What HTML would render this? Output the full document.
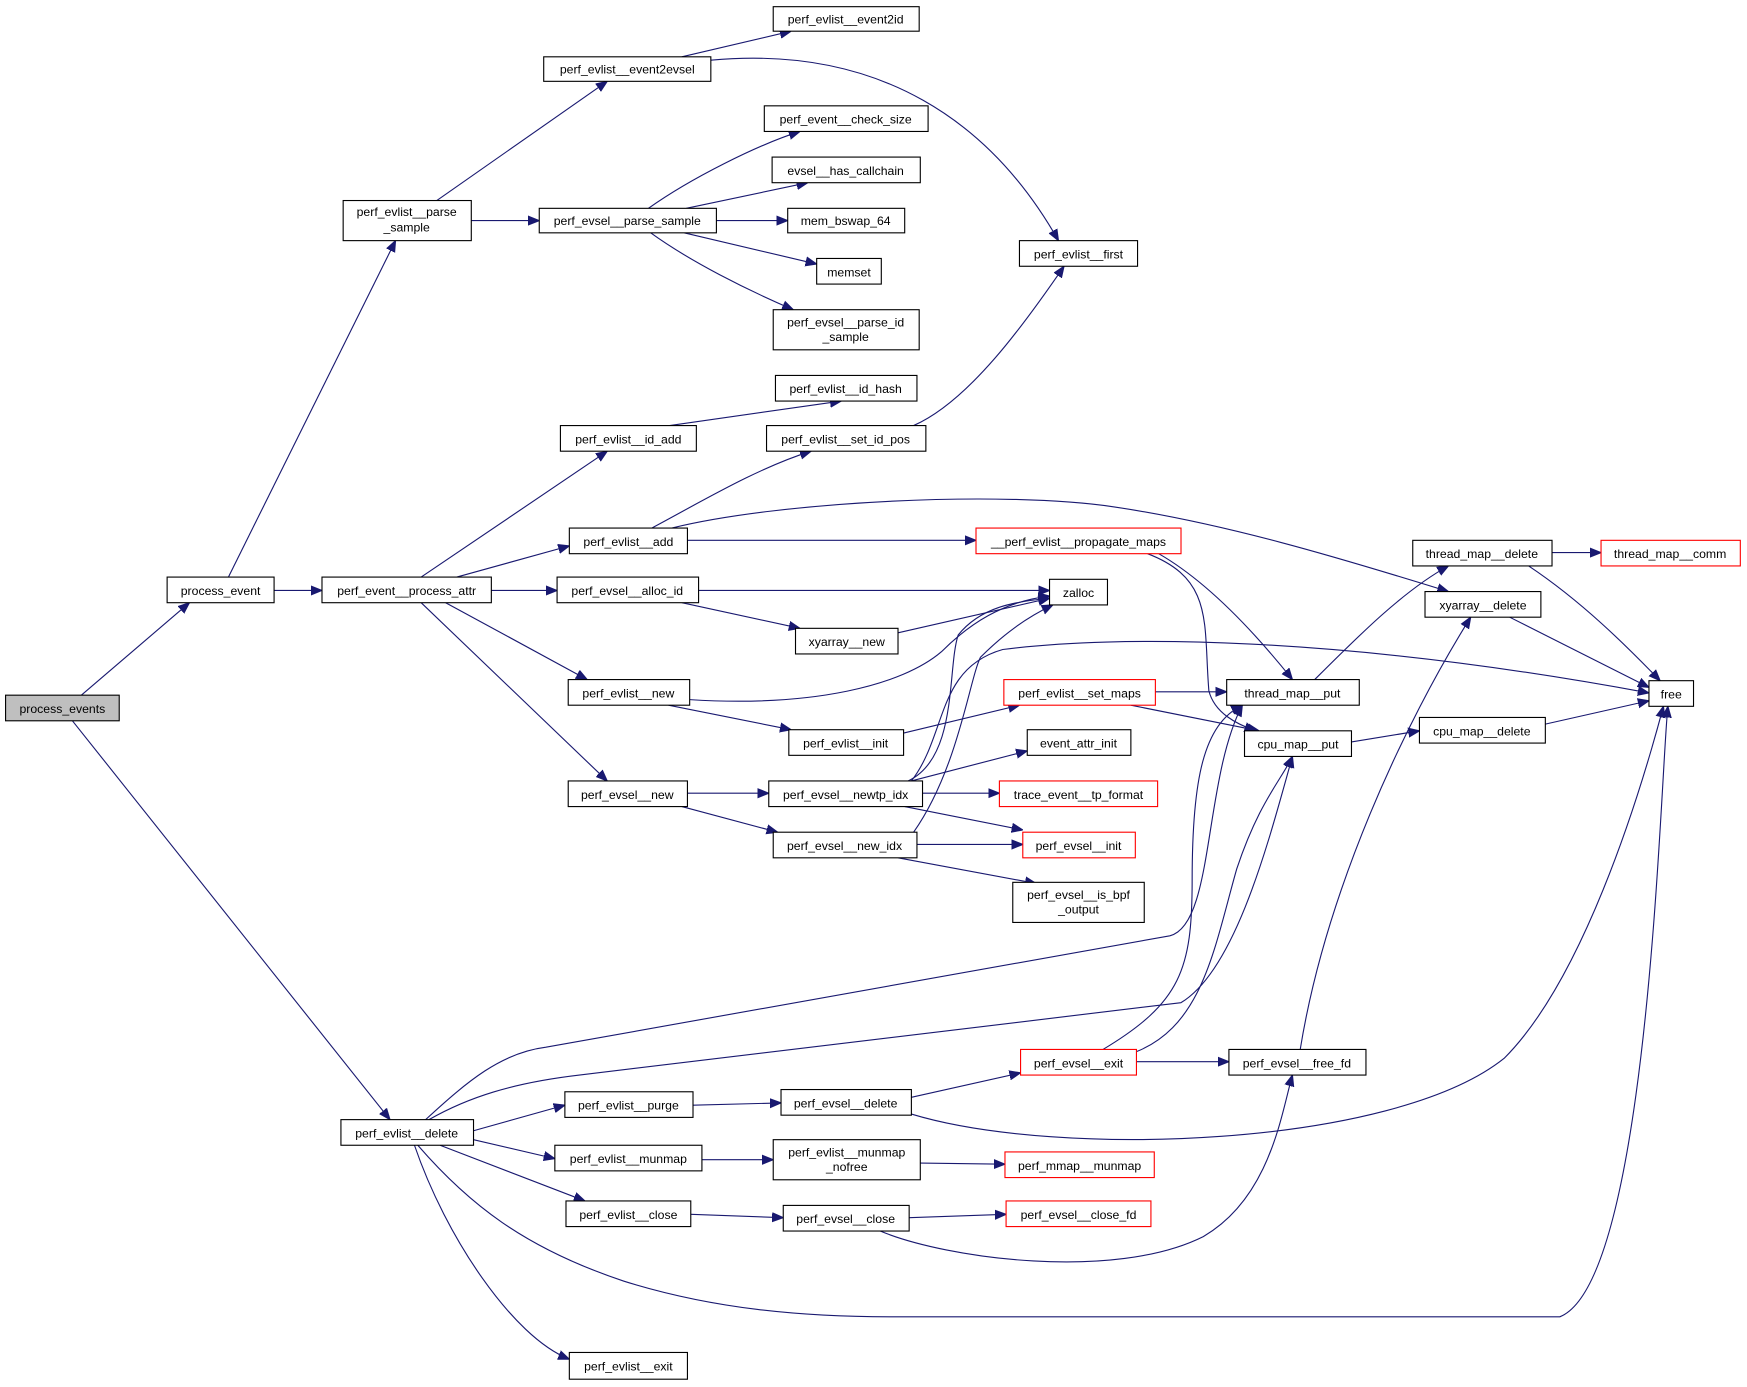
<!DOCTYPE html>
<html><head><meta charset="utf-8"><style>
html,body{margin:0;padding:0;background:#fff;}
svg{display:block;}
text{font-family:"Liberation Sans",sans-serif;font-size:11px;fill:#000;text-anchor:middle;}
.n{fill:#fff;stroke:#000;stroke-width:1;}
.r{fill:#fff;stroke:#ff0000;stroke-width:1;}
.g{fill:#bfbfbf;stroke:#000;stroke-width:1;}
path{fill:none;stroke:#191970;stroke-width:1;}
</style></head><body>
<svg width="1747" height="1387" viewBox="0 0 1568 1245" preserveAspectRatio="none" xmlns="http://www.w3.org/2000/svg">
<defs><marker id="a" viewBox="0 0 10 10" refX="10" refY="5" markerWidth="10" markerHeight="10" markerUnits="userSpaceOnUse" orient="auto"><path d="M0,1 L10,5 L0,9 Z" style="fill:#191970;stroke:#191970"/></marker></defs>
<g marker-end="url(#a)">
<path d="M73,624 L170,541"/>
<path d="M65,647 L350,1005"/>
<path d="M205,518 L355,216"/>
<path d="M246,530 L289,530"/>
<path d="M392,180 L545,73"/>
<path d="M423,198 L484,198"/>
<path d="M612,51 L710,28"/>
<path d="M638,54 C790,40 890,110 950,216"/>
<path d="M582,187 C620,160 680,130 718,118"/>
<path d="M616,187 L725,164"/>
<path d="M643,198 L707,198"/>
<path d="M614,209 L733,237"/>
<path d="M584,209 C620,235 670,260 712,278"/>
<path d="M820,382 C870,360 920,290 955,239"/>
<path d="M601,382 L755,360"/>
<path d="M378,518 L545,405"/>
<path d="M410,518 L511,490"/>
<path d="M441,530 L500,530"/>
<path d="M400,541 L527,610"/>
<path d="M378,541 L545,701"/>
<path d="M585,474 C630,450 680,420 728,405"/>
<path d="M617,485 L876,485"/>
<path d="M603,474 C700,450 900,440 1000,455 C1100,470 1200,500 1300,531"/>
<path d="M627,530 L942,530"/>
<path d="M612,541 L718,564"/>
<path d="M806,568 L942,537"/>
<path d="M619,628 C730,635 810,615 845,585 C870,560 900,540 942,535"/>
<path d="M600,633 L710,655"/>
<path d="M811,658 L915,633"/>
<path d="M818,701 C850,660 840,600 900,583 C1000,570 1200,570 1480,622"/>
<path d="M815,701 C860,680 850,600 860,570 C880,545 910,540 942,537"/>
<path d="M820,747 C860,690 870,610 880,590 C900,570 920,555 945,543"/>
<path d="M818,701 L922,674"/>
<path d="M828,712 L897,712"/>
<path d="M812,724 L918,745"/>
<path d="M617,712 L690,712"/>
<path d="M612,724 L698,747"/>
<path d="M823,758 L918,758"/>
<path d="M806,770 L930,793"/>
<path d="M1040,497 C1080,520 1120,560 1160,610"/>
<path d="M1030,497 C1090,520 1080,560 1085,620 C1090,640 1110,650 1127,656"/>
<path d="M1037,621 L1101,621"/>
<path d="M1015,633 L1130,656"/>
<path d="M1180,610 C1220,570 1260,530 1300,508"/>
<path d="M1393,496 L1437,496"/>
<path d="M1372,508 C1420,540 1460,580 1490,611"/>
<path d="M1355,554 L1480,617"/>
<path d="M1213,666 L1274,656"/>
<path d="M1387,650 L1480,629"/>
<path d="M382,1005 C420,970 450,945 490,940 L1050,840 C1090,830 1080,700 1115,633"/>
<path d="M385,1005 C420,985 460,972 520,965 L1060,900 C1110,870 1140,750 1160,679"/>
<path d="M425,1015 L507,992"/>
<path d="M425,1023 L498,1040"/>
<path d="M395,1028 L525,1078"/>
<path d="M375,1028 C420,1080 470,1120 560,1150 C640,1175 720,1182 800,1182 L1400,1182 C1480,1150 1490,700 1497,634"/>
<path d="M372,1028 C400,1110 460,1200 511,1220"/>
<path d="M622,992 L701,990"/>
<path d="M818,985 L916,963"/>
<path d="M818,1000 C950,1040 1250,1030 1350,950 C1420,880 1470,720 1493,634"/>
<path d="M630,1041 L694,1041"/>
<path d="M826,1044 L902,1045"/>
<path d="M620,1090 L703,1093"/>
<path d="M816,1093 L903,1090"/>
<path d="M790,1105 C850,1130 1000,1150 1080,1110 C1140,1075 1150,1000 1160,965"/>
<path d="M1020,953 L1103,953"/>
<path d="M990,942 C1060,900 1070,870 1070,790 C1070,700 1080,650 1115,633"/>
<path d="M1020,944 C1080,920 1090,850 1110,780 C1130,720 1150,700 1160,679"/>
<path d="M1167,942 C1190,800 1260,650 1320,554"/>
</g>
<rect class="g" x="5" y="624" width="102" height="23"/><text x="56" y="640">process_events</text>
<rect class="n" x="150" y="518" width="96" height="23"/><text x="198" y="534">process_event</text>
<rect class="n" x="308" y="180" width="115" height="36"/><text x="365" y="194">perf_evlist__parse</text><text x="365" y="208">_sample</text>
<rect class="n" x="488" y="51" width="150" height="22"/><text x="563" y="66">perf_evlist__event2evsel</text>
<rect class="n" x="694" y="6" width="131" height="22"/><text x="759" y="21">perf_evlist__event2id</text>
<rect class="n" x="686" y="95" width="147" height="23"/><text x="759" y="111">perf_event__check_size</text>
<rect class="n" x="693" y="141" width="133" height="23"/><text x="759" y="157">evsel__has_callchain</text>
<rect class="n" x="484" y="187" width="159" height="22"/><text x="563" y="202">perf_evsel__parse_sample</text>
<rect class="n" x="707" y="187" width="105" height="22"/><text x="759" y="202">mem_bswap_64</text>
<rect class="n" x="733" y="232" width="58" height="23"/><text x="762" y="248">memset</text>
<rect class="n" x="694" y="278" width="131" height="36"/><text x="759" y="293">perf_evsel__parse_id</text><text x="759" y="306">_sample</text>
<rect class="n" x="915" y="216" width="106" height="23"/><text x="968" y="232">perf_evlist__first</text>
<rect class="n" x="696" y="337" width="127" height="23"/><text x="759" y="353">perf_evlist__id_hash</text>
<rect class="n" x="503" y="382" width="122" height="23"/><text x="564" y="398">perf_evlist__id_add</text>
<rect class="n" x="688" y="382" width="143" height="23"/><text x="759" y="398">perf_evlist__set_id_pos</text>
<rect class="n" x="511" y="474" width="106" height="23"/><text x="564" y="490">perf_evlist__add</text>
<rect class="r" x="876" y="474" width="184" height="23"/><text x="968" y="490">__perf_evlist__propagate_maps</text>
<rect class="n" x="289" y="518" width="152" height="23"/><text x="365" y="534">perf_event__process_attr</text>
<rect class="n" x="500" y="518" width="127" height="23"/><text x="563" y="534">perf_evsel__alloc_id</text>
<rect class="n" x="942" y="520" width="52" height="23"/><text x="968" y="536">zalloc</text>
<rect class="n" x="714" y="564" width="92" height="23"/><text x="760" y="580">xyarray__new</text>
<rect class="n" x="510" y="610" width="109" height="23"/><text x="564" y="626">perf_evlist__new</text>
<rect class="n" x="708" y="655" width="103" height="23"/><text x="759" y="671">perf_evlist__init</text>
<rect class="r" x="901" y="610" width="136" height="23"/><text x="969" y="626">perf_evlist__set_maps</text>
<rect class="n" x="1101" y="610" width="119" height="23"/><text x="1160" y="626">thread_map__put</text>
<rect class="n" x="1117" y="656" width="96" height="23"/><text x="1165" y="672">cpu_map__put</text>
<rect class="n" x="922" y="655" width="93" height="23"/><text x="968" y="671">event_attr_init</text>
<rect class="n" x="510" y="701" width="107" height="23"/><text x="563" y="717">perf_evsel__new</text>
<rect class="n" x="690" y="701" width="138" height="23"/><text x="759" y="717">perf_evsel__newtp_idx</text>
<rect class="r" x="897" y="701" width="142" height="23"/><text x="968" y="717">trace_event__tp_format</text>
<rect class="n" x="694" y="747" width="129" height="23"/><text x="758" y="763">perf_evsel__new_idx</text>
<rect class="r" x="918" y="747" width="101" height="23"/><text x="968" y="763">perf_evsel__init</text>
<rect class="n" x="909" y="792" width="118" height="36"/><text x="968" y="807">perf_evsel__is_bpf</text><text x="968" y="820">_output</text>
<rect class="n" x="1268" y="485" width="125" height="23"/><text x="1330" y="501">thread_map__delete</text>
<rect class="r" x="1437" y="485" width="125" height="23"/><text x="1499" y="501">thread_map__comm</text>
<rect class="n" x="1279" y="531" width="104" height="23"/><text x="1331" y="547">xyarray__delete</text>
<rect class="n" x="1480" y="611" width="40" height="23"/><text x="1500" y="627">free</text>
<rect class="n" x="1274" y="644" width="113" height="23"/><text x="1330" y="660">cpu_map__delete</text>
<rect class="r" x="916" y="942" width="104" height="23"/><text x="968" y="958">perf_evsel__exit</text>
<rect class="n" x="1103" y="942" width="123" height="23"/><text x="1164" y="958">perf_evsel__free_fd</text>
<rect class="n" x="306" y="1005" width="119" height="23"/><text x="365" y="1021">perf_evlist__delete</text>
<rect class="n" x="507" y="980" width="115" height="23"/><text x="564" y="996">perf_evlist__purge</text>
<rect class="n" x="701" y="978" width="117" height="23"/><text x="759" y="994">perf_evsel__delete</text>
<rect class="n" x="498" y="1028" width="132" height="23"/><text x="564" y="1044">perf_evlist__munmap</text>
<rect class="n" x="694" y="1023" width="132" height="36"/><text x="760" y="1038">perf_evlist__munmap</text><text x="760" y="1051">_nofree</text>
<rect class="r" x="902" y="1034" width="134" height="23"/><text x="969" y="1050">perf_mmap__munmap</text>
<rect class="n" x="508" y="1078" width="112" height="23"/><text x="564" y="1094">perf_evlist__close</text>
<rect class="n" x="703" y="1082" width="113" height="23"/><text x="759" y="1098">perf_evsel__close</text>
<rect class="r" x="903" y="1078" width="130" height="23"/><text x="968" y="1094">perf_evsel__close_fd</text>
<rect class="n" x="511" y="1214" width="106" height="24"/><text x="564" y="1230">perf_evlist__exit</text>
</svg>
</body></html>
